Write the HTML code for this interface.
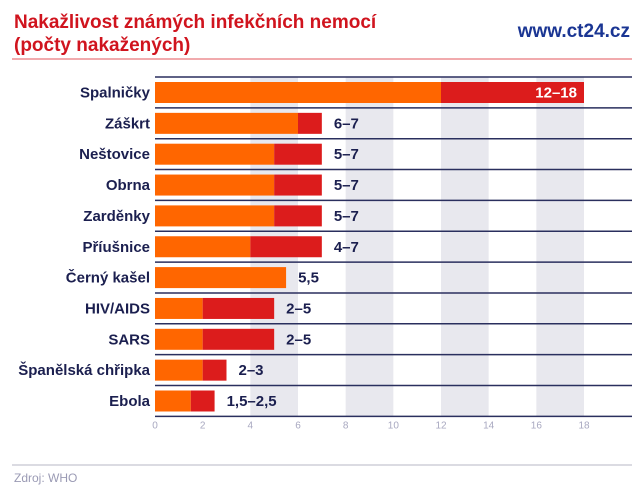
<!DOCTYPE html>
<html><head><meta charset="utf-8"><style>
body{margin:0;background:#fff;width:640px;height:491px;overflow:hidden;font-family:"Liberation Sans",sans-serif}
</style></head><body>
<svg width="640" height="491" viewBox="0 0 640 491" xmlns="http://www.w3.org/2000/svg">
<text x="14" y="28" font-size="19" font-weight="bold" fill="#d0141e">Nakažlivost známých infekčních nemocí</text>
<text x="14" y="51" font-size="19" font-weight="bold" fill="#d0141e">(počty nakažených)</text>
<text x="630" y="37" font-size="19" font-weight="bold" fill="#1a3593" text-anchor="end">www.ct24.cz</text>
<line x1="12" y1="59" x2="632" y2="59" stroke="#e3555b" stroke-width="1"/>
<g id="stripes"></g><g id="rows"></g><g id="ticks"></g>
<line x1="12" y1="465" x2="632" y2="465" stroke="#cfcfd8" stroke-width="1.5"/>
<text x="14" y="482" font-size="12" fill="#9a9ab4">Zdroj: WHO</text>
</svg>
<script>
const categories=["Spalničky","Záškrt","Neštovice","Obrna","Zarděnky","Příušnice","Černý kašel","HIV/AIDS","SARS","Španělská chřipka","Ebola"];
const lowValues=[12,6,5,5,5,4,5.5,2,2,2,1.5];
const highValues=[18,7,7,7,7,7,5.5,5,5,3,2.5];
const valueLabels=["12–18","6–7","5–7","5–7","5–7","4–7","5,5","2–5","2–5","2–3","1,5–2,5"];
const ticks=[0,2,4,6,8,10,12,14,16,18];
const NS="http://www.w3.org/2000/svg";
const x0=155,unit=(584-155)/18,yTop=77,pitch=30.85;
const xs=v=>x0+v*unit;
function mk(t,a,p){const e=document.createElementNS(NS,t);for(const k in a)e.setAttribute(k,a[k]);p.appendChild(e);return e;}
const sg=document.getElementById('stripes'),rg=document.getElementById('rows'),tg=document.getElementById('ticks');
const yBottom=yTop+pitch*categories.length;
for(let i=2;i<ticks.length-1;i+=2){
 const r=mk('rect',{x:xs(ticks[i]),y:yTop,width:xs(ticks[i+1])-xs(ticks[i]),height:yBottom-yTop,fill:'#e8e8ee'},sg);
 
 
}
for(let i=0;i<=categories.length;i++){
 const l=mk('line',{x1:x0,x2:632,y1:yTop+pitch*i,y2:yTop+pitch*i,stroke:'#2a2f5e','stroke-width':1.5},rg);
 
 
}
categories.forEach((c,i)=>{
 const y=yTop+pitch*i+5,h=21,cy=y+h/2+5;
 const t=mk('text',{x:150,y:cy,'font-size':15,'font-weight':'bold',fill:'#1b1f4f','text-anchor':'end'},rg);t.textContent=c;
 
 
 const o=mk('rect',{x:x0,y:y,width:xs(lowValues[i])-x0,height:h,fill:'#ff6600'},rg);
 
 
 if(highValues[i]>lowValues[i]){
  const r=mk('rect',{x:xs(lowValues[i]),y:y,width:xs(highValues[i])-xs(lowValues[i]),height:h,fill:'#dc1c1c'},rg);
  
  
 }
 const end=xs(highValues[i]);
 const inside=highValues[i]>=15;
 const v=mk('text',{x:inside?end-7:end+12,y:cy,'font-size':15,'font-weight':'bold',fill:inside?'#fff':'#1b1f4f','text-anchor':inside?'end':'start'},rg);v.textContent=valueLabels[i];
 
 
});
ticks.forEach(t=>{
 const e=mk('text',{x:xs(t),y:yBottom+12,'font-size':10,fill:'#a8a8c0','text-anchor':'middle'},tg);e.textContent=t;
 
 
});
</script>
</body></html>
